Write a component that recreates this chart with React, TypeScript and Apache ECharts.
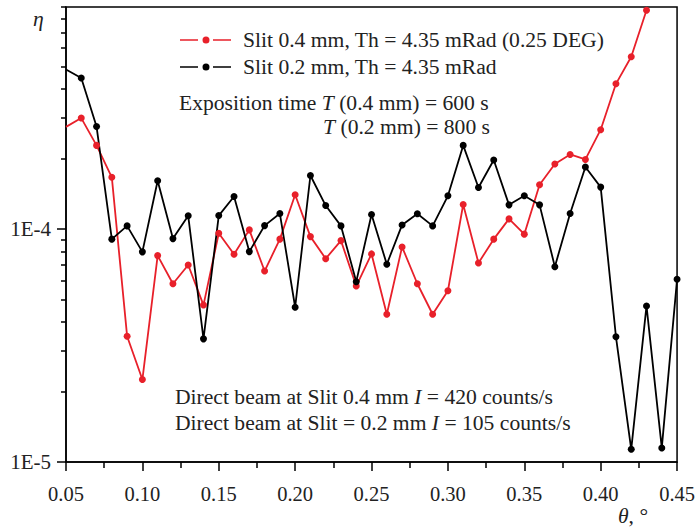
import React, { useEffect, useRef } from 'react';
import * as echarts from 'echarts';

// theta, degrees
const THETA = [
  0.05, 0.06, 0.07, 0.08, 0.09, 0.10, 0.11, 0.12, 0.13, 0.14,
  0.15, 0.16, 0.17, 0.18, 0.19, 0.20, 0.21, 0.22, 0.23, 0.24,
  0.25, 0.26, 0.27, 0.28, 0.29, 0.30, 0.31, 0.32, 0.33, 0.34,
  0.35, 0.36, 0.37, 0.38, 0.39, 0.40, 0.41, 0.42, 0.43, 0.44, 0.45,
];

// eta, Slit 0.4 mm (0.05 .. 0.43)
const ETA_SLIT_04 = [
  2.75e-4, 3.0e-4, 2.29e-4, 1.67e-4, 3.47e-5, 2.26e-5, 7.7e-5, 5.83e-5, 7.02e-5, 4.72e-5,
  9.61e-5, 7.8e-5, 9.93e-5, 6.61e-5, 9.06e-5, 1.405e-4, 9.29e-5, 7.47e-5, 8.93e-5, 5.7e-5,
  7.83e-5, 4.31e-5, 8.39e-5, 5.83e-5, 4.31e-5, 5.44e-5, 1.276e-4, 7.16e-5, 9.06e-5, 1.107e-4,
  9.52e-5, 1.551e-4, 1.905e-4, 2.094e-4, 1.993e-4, 2.675e-4, 4.21e-4, 5.5e-4, 8.72e-4,
];

// eta, Slit 0.2 mm (0.05 .. 0.45)
const ETA_SLIT_02 = [
  4.85e-4, 4.46e-4, 2.76e-4, 9.06e-5, 1.033e-4, 7.99e-5, 1.614e-4, 9.11e-5, 1.141e-4, 3.38e-5,
  1.144e-4, 1.381e-4, 8.01e-5, 1.036e-4, 1.167e-4, 4.62e-5, 1.7e-4, 1.263e-4, 1.033e-4, 5.95e-5,
  1.156e-4, 7.07e-5, 1.043e-4, 1.164e-4, 1.033e-4, 1.391e-4, 2.29e-4, 1.51e-4, 1.981e-4, 1.272e-4,
  1.391e-4, 1.272e-4, 6.9e-5, 1.167e-4, 1.849e-4, 1.516e-4, 3.45e-5, 1.134e-5, 4.68e-5, 1.149e-5,
  6.09e-5,
];

const SERIES_NAMES = [
  'Slit 0.4 mm, Th = 4.35 mRad (0.25 DEG)',
  'Slit 0.2 mm, Th = 4.35 mRad',
];

const Y_MIN = 1e-5;
const Y_MAX = 9e-4;
const Y_MAJOR_TICKS = [1e-5, 1e-4];
const Y_MAJOR_LABELS = ['1E-5', '1E-4'];
const Y_MINOR_TICKS = [
  2e-5, 3e-5, 4e-5, 5e-5, 6e-5, 7e-5, 8e-5, 9e-5,
  2e-4, 3e-4, 4e-4, 5e-4, 6e-4, 7e-4, 8e-4, 9e-4,
];
const X_MIN = 0.05;
const X_MAX = 0.45;
const X_INTERVAL = 0.05;

const FONT = 'Times New Roman, Liberation Serif, DejaVu Serif, serif';
const TEXT = '#222';
const RED = '#e8202a';
const BLACK = '#000000';
const TXT_SIZE = 21.6;

const LEGEND_ICON =
  'path://M0,2.75H18V4.25H0Z M33,2.75H51V4.25H33Z M22.5,3.5A3.5,3.5 0 1 1 29.5,3.5A3.5,3.5 0 1 1 22.5,3.5Z';

const lg = (v: number) => Math.log10(v);

function buildData(xs: number[], ys: number[]) {
  return ys.map((y, i) =>
    i === 0
      ? { value: [xs[i], lg(y)], symbol: 'none' }
      : { value: [xs[i], lg(y)] }
  );
}

export default function App() {
  const ref = useRef<HTMLDivElement>(null);

  useEffect(() => {
    if (!ref.current) return;
    const chart = echarts.init(ref.current, undefined, { renderer: 'svg' });
    const n = { fontFamily: FONT, fontSize: TXT_SIZE, fill: TEXT };
    const it = { fontFamily: FONT, fontSize: TXT_SIZE, fill: TEXT, fontStyle: 'italic' };

    const yAxisCommon = {
      type: 'value',
      min: lg(Y_MIN),
      max: lg(Y_MAX),
      splitLine: { show: false },
    };

    chart.setOption({
      animation: false,
      backgroundColor: '#ffffff',
      textStyle: { fontFamily: FONT },
      grid: {
        left: 66,
        right: 20,
        top: 7,
        bottom: 67,
        show: true,
        borderColor: '#000',
        borderWidth: 1.5,
        backgroundColor: 'transparent',
      },
      legend: {
        orient: 'vertical',
        left: 180,
        top: 29,
        padding: 0,
        itemWidth: 51,
        itemHeight: 7,
        itemGap: 5,
        icon: LEGEND_ICON,
        selectedMode: false,
        textStyle: {
          fontFamily: FONT,
          fontSize: TXT_SIZE,
          color: TEXT,
          lineHeight: 21,
          padding: [0, 0, 0, 7],
        },
        data: SERIES_NAMES,
      },
      xAxis: {
        type: 'value',
        min: X_MIN,
        max: X_MAX,
        interval: X_INTERVAL,
        axisLine: { show: true, onZero: false, lineStyle: { color: '#000', width: 1.5 } },
        axisTick: { show: true, inside: false, length: 9, lineStyle: { color: '#000', width: 1.5 } },
        minorTick: { show: true, splitNumber: 2, length: 6, lineStyle: { color: '#000', width: 1.5 } },
        splitLine: { show: false },
        axisLabel: {
          margin: 21,
          fontFamily: FONT,
          fontSize: 20.5,
          color: TEXT,
          formatter: (v: number) => v.toFixed(2),
        },
      },
      yAxis: [
        {
          ...yAxisCommon,
          axisLine: { show: true, onZero: false, lineStyle: { color: '#000', width: 1.5 } },
          axisTick: {
            show: true,
            inside: false,
            length: 9,
            customValues: Y_MAJOR_TICKS.map(lg),
            lineStyle: { color: '#000', width: 1.5 },
          },
          axisLabel: {
            show: true,
            margin: 15,
            fontFamily: FONT,
            fontSize: 21,
            color: TEXT,
            customValues: Y_MAJOR_TICKS.map(lg),
            formatter: (v: number) => {
              const idx = Y_MAJOR_TICKS.findIndex((t) => Math.abs(lg(t) - v) < 1e-6);
              return idx >= 0 ? Y_MAJOR_LABELS[idx] : '';
            },
          },
        },
        {
          ...yAxisCommon,
          position: 'left',
          axisLine: { show: false },
          axisTick: {
            show: true,
            inside: false,
            length: 5,
            customValues: Y_MINOR_TICKS.map(lg),
            lineStyle: { color: '#000', width: 1.5 },
          },
          axisLabel: { show: false },
        },
      ],
      series: [
        {
          name: SERIES_NAMES[0],
          type: 'line',
          yAxisIndex: 0,
          data: buildData(THETA, ETA_SLIT_04),
          symbol: 'circle',
          symbolSize: 7,
          clip: true,
          lineStyle: { color: RED, width: 1.8 },
          itemStyle: { color: RED },
        },
        {
          name: SERIES_NAMES[1],
          type: 'line',
          yAxisIndex: 0,
          data: buildData(THETA, ETA_SLIT_02),
          symbol: 'circle',
          symbolSize: 7,
          clip: true,
          lineStyle: { color: BLACK, width: 1.8 },
          itemStyle: { color: BLACK },
        },
      ],
      graphic: [
        {
          type: 'text',
          x: 179,
          y: 103,
          style: {
            text: '{n|Exposition time }{i|T}{n| (0.4 mm) = 600 s}',
            rich: { n, i: it },
            verticalAlign: 'middle',
            align: 'left',
          },
        },
        {
          type: 'text',
          x: 490,
          y: 127,
          style: {
            text: '{i|T}{n| (0.2 mm) = 800 s}',
            rich: { n, i: it },
            verticalAlign: 'middle',
            align: 'right',
          },
        },
        {
          type: 'text',
          x: 175,
          y: 397,
          style: {
            text: '{n|Direct beam at Slit 0.4 mm }{i|I}{n| = 420 counts/s}',
            rich: { n, i: it },
            verticalAlign: 'middle',
            align: 'left',
          },
        },
        {
          type: 'text',
          x: 175,
          y: 423,
          style: {
            text: '{n|Direct beam at Slit = 0.2 mm }{i|I}{n| = 105 counts/s}',
            rich: { n, i: it },
            verticalAlign: 'middle',
            align: 'left',
          },
        },
        {
          type: 'text',
          x: 618,
          y: 516,
          style: {
            text: '{i|θ}{n|, °}',
            rich: { n, i: it },
            verticalAlign: 'middle',
            align: 'left',
          },
        },
        {
          type: 'text',
          x: 33,
          y: 19,
          style: {
            text: '{i|η}',
            rich: { i: it },
            verticalAlign: 'middle',
            align: 'left',
          },
        },
      ],
    });
    return () => chart.dispose();
  }, []);

  return (
    <div
      ref={ref}
      style={{ position: 'fixed', left: 0, top: 0, width: 698, height: 529 }}
    />
  );
}
